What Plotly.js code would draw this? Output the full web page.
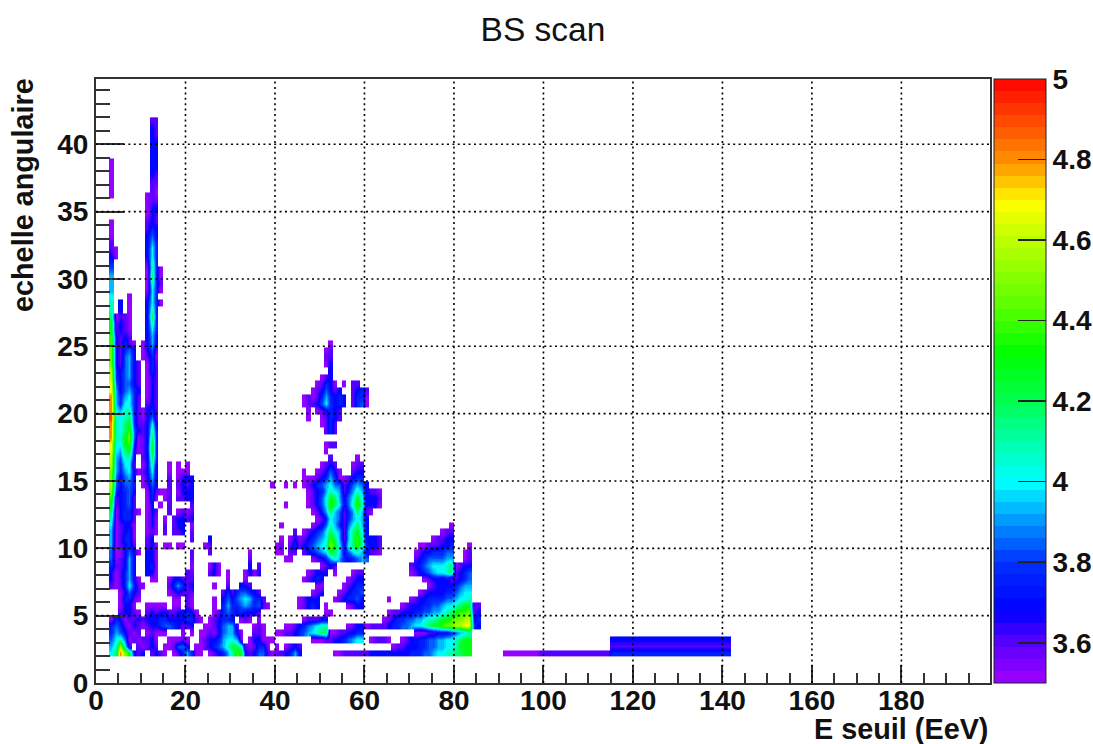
<!DOCTYPE html>
<html><head><meta charset="utf-8">
<script src="https://cdn.plot.ly/plotly-3.0.1.min.js"></script>
<style>html,body{margin:0;padding:0;background:#fff}</style></head>
<body><div id="chart" style="width:1093px;height:744px"></div>
<script>
// Value levels
const levelKeys = "abcdefghijklmnop";
const levelValues = [3.52,3.6,3.68,3.76,3.84,3.92,4.0,4.08,4.18,4.28,4.38,4.48,4.58,4.68,4.8,4.92];
// Heat cells. Each row: lower y edge, then runs "firstX:levels" ('.' = empty) or "x0-x1:level"
const rowY = [2,2.5,3,3.5,4,4.5,5,5.5,6,6.5,7,7.5,8,8.5,9,9.5,10,10.5,11,11.5,12,12.5,13,13.5,14,14.5,15,15.5,16,16.5,17,17.5,18,18.5,19,19.5,20,20.5,21,21.5,22,22.5,23,23.5,24,24.5,25,25.5,26,26.5,27,27.5,28,28.5,29,29.5,30,30.5,31,31.5,32,32.5,33,33.5,34,34.5,35,35.5,36,36.5,37,37.5,38,38.5,39,39.5,40,40.5,41,41.5];
const rowRuns = [
"3:gioljcbc.bcba.abdfdaa.abcdfhkjcbceebaa 40:bbcdfc 53:aabbbbbbcccccccccdddeefgghhiijj 91-98:a 99-114:b 115-141:d",
"3:fhmgb.babcb.aabeec.aabcdefhjihbabdda.a 42:abcb 66:abbcccddeeffgghjjj 115-141:b",
"3:egheababbca..aaaba..abccdfggfa.accaa 39:a 48:aaabbccdefgg 61:abbba 68:abccddeeffgghijj 115-141:c",
"3:dfecbab.abaaa...a.a.aabaceffca..bba 40:aabbcdefghii 52:a 53:abbccdd 71:aaabbcccdefgh",
"3:dedbacbabccdeedcbbc..aabceffb...aba 42:a 43:abcdefghh 56:abcc 60:abbbbcddeefgghijjkllmmnn 84:dc",
"3:adcabbcbcccddccccddba.abcddc.aba.a 46:abbbcc 64:abcddeeffghhijjkllmm 84:cd",
"5:bccba.bcbccbbccdca...abdedcdcccb 51:aa 65:abbcccddeeffghijkkl 84:bc",
"5:acca 11:aaaaa.aa.ba 26:a.dfddefedeba 45:abcdc 51:a 56:abcc 68:abcccddeefgghijj 84:bb",
"5:addba 17:aa.ba 26:a.cecefgfddb 45:abccc 53:abcddec 65:a 70:abccddddeefggh",
"5:acecb 16:abcbbb 28:bdbdeedcb 48:abc 54:abcdde 72:abccccddefgg",
"3:babdgdba 16:bdfdbc 26:a 29:b 32:ccb 49:aa 55:a 56:bcdd 74:abccccdeff",
"3:cabdfca 12:aa 16:accbbb 29:a 33:a 46:abcdc 56:abcc 73:abcc 77:ccbbcde",
"3:cabdfc 11:cca 20:bb 25:bca 29:a 33:acac 47:abccc 53:a 57:abb 70:abcdefgghi 80:bcde",
"3:dbbcfc 11:cda 21:a 25:aca 34:c 36:b 50:abcb 70:bcdefggghi 80:abcc",
"3:eabcfc 11:cca 21:b 34:b 42:aa 48:abcdfhfdcdefe 71:bcdeeeeff 82:ab",
"3:eaacec 9:a 11:cca 21:b 25:b 34:a 40:aa 43:bb 46:bcdefgjigceghfcbba 71:abccdddee 82:ab",
"3:fabcdb 11:bca 15:aa 18:aa 24:ab 40:ab 43:bd 45:bcdefghljgcgikhdccb 72:aabbbccd 83:a",
"3:fabdda 11:bc 21:b 25:c 41:a 43:ac 45:abcdefgkifbfikhcccb 75:abbcc",
"3:fabcda 11:aba 15:b 17:bbc 21:b 44:b 46:abcdegigfbfijgc 77:abb",
"3:gabcca 11:aca 15:b 17:bcc 21:a 41:a 48:abcehfdbegifc 79:a",
"3:hacddb 11:aca 15:a 17:bccbc 49:abdgfebdfgfc",
"3:iacddb 9:a 11:acb 16:b 18:abab 48:abdfifebdfifb 61:a",
"3:jbcdeb 11:ac 14:a 16:b 21:b 42:a 47:abcegkigcehkhccca",
"3:kbcdeb 11:ada 15:ab 18:bbcc 47:abcegjifcegjgcccb",
"3:ldcdec 11:adbaab 18:accc 47:abcdfhgfbdfhfcbba",
"3:meceed 10:a 11:bec 16:b 18:bcbc 39:a 42:a 44:a 46:abcdefgeebcefec",
"3:lecefc 10:a 11:cfc 16:b 18:accc 46:aa 48:abcdfda 55:a 56:bcdd",
"3:lfdfgc 9:a 10:b 11:cgc 16:a 18:aaa 46:a 49:abcec 54:a 57:bcc",
"3:mfdggb 10:a 11:chc 16:a 18:a 20:a 50:abc 53:b 57:abb",
"3:mfehhc 10:b 11:cid 52:b 58:a",
"3:ngfijca 10:b 11:cjd 51:a",
"3:nggjkda 10:b 11:cjd 51:abb",
"3:ohhjlea 10:b 11:cid",
"3:ohgikec 10:b 11:chd 51:bdb",
"3:ohgijdb 10:b 11:cgc 50:abdb",
"3:phghidb 10:a 11:ceb 47:a 50:abdcb",
"3:ogfhhdb 10:a 11:cdb 47:a 49:abcdcb",
"3:ofdggdb 11:bcb 46:ab 48:bcegdcdc 57:bdec 60:a",
"3:ofdfgdb 11:acb 46:ab 48:abdfdcdc 57:bddb 60:a",
"3:nfcefdc 11:acb 48:abcec 53:bc 57:bcdb",
"3:neceecb 11:acb 49:abdc 53:a 55:a 57:bb",
"3:mdcefcb 11:acb 50:abc",
"3:mdcefcb 11:adb 52:c",
"3:lcbefcb 11:adb 51:ac",
"3:lcbefc 10:a 11:bda 51:bb",
"3:lcbdec 10:a 11:ceb 51:ab",
"3:kcbdb 8:a 10:a 11:cfc 52:a",
"3:kcbcb 11:cfc",
"3:jbcb 7:a 11:cgd",
"3:jbcb 7:a 11:chd",
"3:iabb 7:a 11:cid",
"3:h 5:c 7:a 11:chd",
"3:h 5:c 7:a 11:cgd 14:a",
"3:g 7:a 11:bgd",
"3:f 11:agd 14:a",
"3:f 11:ahd 14:b",
"3:f 11:aid 14:a",
"3:e 11:ahd 14:a",
"3:d 11:bhd",
"3:c 4:a 11:cgd",
"3:b 4:a 11:cgd",
"3:b 11:cfd",
"3:a 11:cec",
"3:a 11:bdc",
"3:a 11:bcb",
"11:acb",
"11:acc",
"11:abb",
"3:a 11:aba",
"3:a 12:ba",
"3:a 12:bb",
"3:a 12:cb",
"3:a 12:cc",
"3:a 12:cc",
"12:cc",
"12:cc",
"12:cc",
"12:cb",
"12:cb",
"12:bb"
];
const colCount = 140, firstCol = 3;
const binWidth = 1, binHeight = 0.5, colShift = 0.1;
// Tick and colour-bar labels
const xMajor = [0,20,40,60,80,100,120,140,160,180];
const yMajor = [0,5,10,15,20,25,30,35,40];
const barTicks = [3.6,3.8,4,4.2,4.4,4.6,4.8,5];
const barLabels = ["3.6","3.8","4","4.2","4.4","4.6","4.8","5"];
const paletteAt = [3.5,3.6,3.68,3.8,3.9,4.0,4.1,4.2,4.32,4.45,4.6,4.69,4.8,4.9,5.0];
const paletteRGB = [[160,0,255],[90,0,255],[0,0,255],[0,50,255],[0,150,255],[0,255,255],[0,255,170],[0,255,80],[0,255,0],[100,255,0],[190,255,0],[255,255,0],[255,140,0],[255,70,0],[255,0,0]];

function parseRow(s){
  const out = new Array(colCount).fill(null);
  s.split(" ").forEach(run=>{
    const [pos,lv] = run.split(":");
    if(pos.includes("-")){
      const [a,b] = pos.split("-").map(Number);
      for(let x=a;x<=b;x++) out[x-firstCol] = levelValues[levelKeys.indexOf(lv)];
    } else {
      const a = Number(pos);
      [...lv].forEach((c,i)=>{ if(c!==".") out[a+i-firstCol] = levelValues[levelKeys.indexOf(c)]; });
    }
  });
  return out;
}
const z = rowRuns.map(parseRow);
const xc = Array.from({length:colCount},(_,i)=>firstCol+i+binWidth/2-colShift);
const yc = rowY.map(v=>v+binHeight/2);

const steps = 50, scale = [];
function colorAt(v){
  let k=0; while(k<paletteAt.length-2 && v>paletteAt[k+1]) k++;
  const t=(v-paletteAt[k])/(paletteAt[k+1]-paletteAt[k]);
  const c=paletteRGB[k].map((p,j)=>Math.round(p+(paletteRGB[k+1][j]-p)*Math.min(1,Math.max(0,t))));
  return `rgb(${c.join(",")})`;
}
for(let i=0;i<steps;i++){
  const col=colorAt(3.5+1.5*(i+0.5)/steps);
  scale.push([i/steps,col]); scale.push([(i+1)/steps,col]);
}
const fontFamily = '"Liberation Sans",Arial,sans-serif';
const boldFont = {family:fontFamily,size:28,color:'#111',weight:'bold'};
const titleBold = {family:fontFamily,size:28.8,color:'#111',weight:'bold'};
const axisCol = '#333';
const dotted = {color:'#000',width:1.6,dash:'2px,3.4px'};
const shapes = [];
xMajor.slice(1).forEach(v=>shapes.push({type:'line',xref:'x',yref:'paper',x0:v,x1:v,y0:0,y1:1,line:dotted,layer:'above'}));
yMajor.slice(1).forEach(v=>shapes.push({type:'line',xref:'paper',yref:'y',x0:0,x1:1,y0:v,y1:v,line:dotted,layer:'above'}));

Plotly.newPlot('chart',[{
  type:'heatmap',x:xc,y:yc,z:z,zmin:3.5,zmax:5,zsmooth:'best',hoverongaps:false,
  colorscale:scale,
  colorbar:{x:1.0045,xanchor:'left',y:0,yanchor:'bottom',len:1,thickness:52,xpad:0,ypad:0,
    outlinewidth:1,outlinecolor:'#222',ticks:'inside',ticklen:28,tickwidth:1.6,tickcolor:'#222',
    tickmode:'array',tickvals:barTicks,ticktext:barLabels,tickfont:boldFont}
}],{
  width:1093,height:744,autosize:false,
  margin:{l:96,r:103,t:79,b:61,pad:0,autoexpand:false},
  paper_bgcolor:'#fff',plot_bgcolor:'#fff',showlegend:false,
  title:{text:'BS scan',x:0.4968,xanchor:'center',y:0.961,yanchor:'middle',
    font:{family:fontFamily,size:33.5,color:'#111'}},
  xaxis:{range:[0,199.8],tickmode:'array',tickvals:xMajor,ticks:'inside',ticklen:18,tickwidth:2,tickcolor:axisCol,
    showgrid:false,zeroline:false,showline:true,mirror:true,linecolor:axisCol,linewidth:2,tickfont:boldFont,tickangle:0,ticklabelstandoff:-9,
    minor:{ticks:'inside',ticklen:10,tickwidth:2,tickcolor:axisCol,dtick:5,tick0:0,showgrid:false}},
  yaxis:{range:[0,44.85],tickmode:'array',tickvals:yMajor,ticks:'inside',ticklen:28,tickwidth:2,tickcolor:axisCol,
    showgrid:false,zeroline:false,showline:true,mirror:true,linecolor:axisCol,linewidth:2,tickfont:boldFont,
    minor:{ticks:'inside',ticklen:14,tickwidth:2,tickcolor:axisCol,dtick:1,tick0:0,showgrid:false}},
  shapes:shapes,
  annotations:[
    {text:'E seuil (EeV)',xref:'paper',yref:'paper',x:1,xanchor:'right',y:0,yanchor:'top',yshift:-28,showarrow:false,font:titleBold},
    {text:'echelle angulaire',xref:'paper',yref:'paper',x:0,xanchor:'center',xshift:-73,y:1,yanchor:'top',yshift:3,textangle:-90,showarrow:false,font:titleBold}
  ]
},{displayModeBar:false,staticPlot:true});
</script></body></html>
